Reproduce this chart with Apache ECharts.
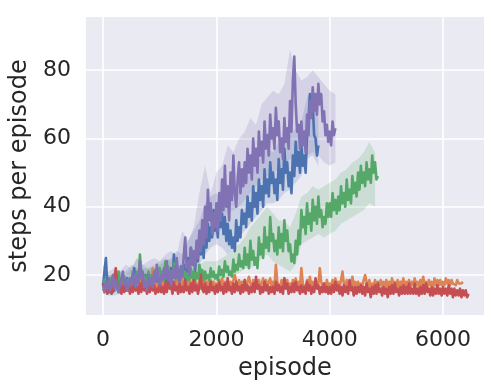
<!DOCTYPE html>
<html>
<head>
<meta charset="utf-8">
<script src="https://cdn.jsdelivr.net/npm/echarts@6/dist/echarts.min.js"></script>
<style>html,body{margin:0;padding:0;background:#fff;}#c{width:500px;height:392px;}</style>
</head>
<body>
<div id="c"></div>
<script>
// sampling grid (episodes) for the lines and for the confidence bands
const LINE_STEP = 25;
const BAND_STEP = 100;
const xTicks = [0, 2000, 4000, 6000];
const yTicks = [20, 40, 60, 80];

// mean steps per episode, one value every 25 episodes
const blue = [
  17, 21, 25, 17, 15, 16.5, 14.5, 17, 15.5, 18, 16, 17.5, 15, 18.5, 16, 17, 15.5, 19, 17, 16,
  18, 16, 22, 17.5, 19, 15.5, 17, 16, 19, 17, 20, 16.5, 18, 16, 19.5, 17, 18, 16.5, 19, 17,
  18.5, 17, 21, 18, 19.5, 17.5, 20, 18.5, 22, 19, 26, 20, 18, 21, 19, 22.5, 20, 23, 19, 21,
  25, 21, 28, 23, 26, 21, 29, 24, 32, 26, 30, 25, 33, 28, 35, 30, 34, 31, 39, 33,
  36, 31, 40, 34, 38, 32, 37, 30, 35, 29, 33, 28, 31, 27, 36, 30, 34, 31, 39, 35,
  38, 34, 43, 37, 41, 36, 46, 40, 44, 38, 48, 42, 46, 40, 51, 44, 48, 43, 53, 47,
  50, 44, 48, 42, 54, 47, 51, 45, 57, 50, 53, 46, 50, 44, 55, 49, 59, 52, 56, 50,
  58, 52, 55, 50, 61, 65, 73, 67, 70, 61, 60, 55, 58
];
const orange = [
  16, 15, 17, 15.5, 17.5, 15.5, 18, 16, 18.5, 16, 17, 15.5, 19, 16.5, 17.5, 16, 18, 16, 17.5, 16,
  17.5, 16, 18, 15.5, 17.5, 16, 19.5, 16.5, 17.5, 16, 18, 16.5, 18.5, 16, 19, 22, 18, 16, 17.5, 16.5,
  17.5, 16, 18.5, 16, 17.5, 15.5, 18, 16.5, 19, 16, 18, 16, 18.5, 16.5, 17.5, 16, 19, 16.5, 17.5, 16,
  18.5, 16, 18, 16.5, 19, 16.5, 17.5, 16, 18.5, 16, 18, 16.5, 19, 16, 18, 16, 18.5, 16.5, 18, 16,
  17.5, 16, 18.5, 16.5, 19, 16.5, 18, 16, 18.5, 16.5, 18, 16, 18.5, 20, 18, 16, 18.5, 16.5, 18, 16.5,
  18.5, 16.5, 18, 19.5, 17.5, 16, 18.5, 16.5, 18, 16, 18.5, 16.5, 17.5, 19, 17, 18.5, 16.5, 18, 19, 16.5,
  18, 16.5, 23, 18, 17.5, 16, 18.5, 16.5, 19, 16.5, 18.5, 16.5, 17.5, 16, 18.5, 16.5, 19, 17, 18, 16.5,
  22, 17.5, 18, 16, 18.5, 16.5, 19.5, 17, 18, 16.5, 18.5, 16.5, 17.5, 22, 18, 16.5, 17.5, 16.5, 18.5, 16.5,
  17.5, 16.5, 18.5, 16.5, 19, 17, 18, 16.5, 18.5, 21, 17.5, 16, 18.5, 16.5, 17.5, 16.5, 19.5, 17, 18, 16.5,
  18, 16.5, 17.5, 16.5, 18.5, 20, 18, 16.5, 18.5, 16, 17.5, 16.5, 18.5, 16.5, 18, 17, 18.5, 16.5, 18, 16.5,
  18.5, 16.5, 18, 16.5, 19, 17, 18, 16.5, 18.5, 16.5, 18, 17, 19, 16.5, 18, 17, 18.5, 16.5, 18, 17,
  19, 17, 18, 16.5, 18.5, 17, 19.5, 17, 18, 16.5, 18.5, 17, 18, 16.5, 19, 17, 18.5, 17, 18.5, 17,
  18, 17, 19, 17.5, 18.5, 17, 18.5, 17.5, 18, 17, 18.5, 17.5, 18, 17.5, 18
];
const green = [
  17, 18.5, 16, 17.5, 16, 19, 17, 20, 16.5, 18, 17, 21, 16.5, 18, 17, 19.5, 16.5, 18.5, 17, 19,
  18, 20, 17, 19.5, 21, 18, 26, 21, 18.5, 20, 17, 18.5, 21, 18, 20, 17.5, 19.5, 21.5, 19, 20.5,
  22, 19.5, 21, 18.5, 24, 20.5, 22.5, 19, 21, 19.5, 23.5, 20, 22, 18.5, 20, 19, 22.5, 19.5, 21, 18.5,
  20, 18.5, 22, 19, 21, 18, 20.5, 19, 23, 20, 21.5, 18.5, 21, 19, 20, 18.5, 22, 19.5, 21, 19,
  20, 18.5, 22.5, 20, 21.5, 19.5, 24, 21, 22.5, 20, 21, 19.5, 24.5, 21, 23, 21.5, 26, 22.5, 24, 22,
  28, 23, 26, 22, 30, 24.5, 27, 23, 25, 22, 31, 26, 29, 25, 34, 28, 31, 27, 37, 30,
  32, 27, 30, 26, 34, 28, 32, 27, 36, 30, 33, 27, 29, 24, 26, 23.5, 30, 26, 33, 29,
  39, 34, 37, 32, 41, 35, 38, 33, 42, 36, 40, 35, 43, 37, 39, 34, 37, 35, 41, 37,
  41, 37, 44, 39, 42, 38, 43, 39, 46, 41, 44, 40, 48, 42, 45, 41, 49, 44, 47, 43,
  50, 45, 52, 47, 50, 46, 53, 48, 51, 47, 55, 50, 53, 48, 49
];
const red = [
  17.5, 15.5, 16.5, 14.5, 16, 15, 17.5, 15, 19, 22, 17, 15, 16.5, 14.5, 17, 15, 18, 15.5, 16.5, 14.5,
  16.5, 15, 18, 15.5, 16.5, 14.5, 17.5, 15, 18.5, 15.5, 17, 14.5, 16.5, 15, 18, 15.5, 17, 14.5, 16, 15,
  18, 15, 16.5, 14.5, 17.5, 15, 19.5, 16, 17, 14.5, 18, 15.5, 16.5, 14.5, 17.5, 15, 16.5, 15, 18.5, 15.5,
  16.5, 14.5, 17.5, 15, 18.5, 15.5, 17, 14.5, 16.5, 20, 16, 15, 17.5, 14.5, 16.5, 15, 18, 15.5, 16.5, 14.5,
  17, 15, 18, 15.5, 16.5, 14.5, 17.5, 15, 19, 15.5, 16.5, 14.5, 17.5, 15, 18, 15.5, 16.5, 14.5, 17, 15,
  18.5, 15.5, 17, 14.5, 16.5, 15, 17.5, 15, 19.5, 16, 17, 14.5, 16.5, 15, 18, 15.5, 17, 14.5, 16.5, 15,
  16.5, 14.5, 18, 15.5, 17, 15, 16.5, 14.5, 19, 16, 17.5, 14.5, 16.5, 15, 17.5, 15, 18, 15.5, 16.5, 14.5,
  17, 15, 16.5, 14.5, 18, 15.5, 17, 14.5, 16.5, 15, 19, 16, 17, 14.5, 16.5, 15, 17.5, 15, 16.5, 14.5,
  16.5, 14.5, 17, 15, 18, 15.5, 17, 14.5, 16.5, 14, 17, 15, 16.5, 14.5, 18.5, 15.5, 16.5, 14, 16.5, 14.5,
  16.5, 15, 17, 14.5, 16.5, 14, 17.5, 15, 16, 13.5, 16.5, 14.5, 17, 14.5, 17.5, 15, 16, 14, 16.5, 14.5,
  16, 13.5, 16.5, 14.5, 17, 14.5, 17.5, 15, 16, 14, 16.5, 14.5, 17, 14.5, 16.5, 14.5, 17.5, 14.5, 16, 14.5,
  17.5, 14.5, 16, 14, 16.5, 14.5, 17, 14.5, 17.5, 15, 16, 14, 16.5, 14, 16, 14.5, 17, 14.5, 16, 14,
  16.5, 14.5, 16, 14, 17, 14.5, 16, 13.5, 16, 14, 15.5, 14, 16, 13.5, 15.5, 14, 15.5, 13.5, 14.5
];
const purple = [
  17, 15, 18, 16, 19, 15.5, 17, 20, 16, 18.5, 16, 15, 17.5, 19, 21, 17, 18.5, 15.5, 17, 19,
  17, 21, 18, 16.5, 20, 17.5, 24, 19, 21, 16.5, 18, 15.5, 20, 17, 19, 16.5, 21, 18, 23, 19,
  17, 20, 18.5, 22, 19, 24, 18.5, 21, 17, 20, 22.5, 19, 25, 20, 18, 22, 19.5, 26, 31, 22,
  24, 20, 28, 23, 27, 22, 30, 25, 33, 27, 36, 29, 40, 31, 45, 36, 41, 32, 38, 34,
  41, 33, 44, 36, 48, 39, 52, 40, 46, 36, 50, 42, 55, 44, 40, 48, 53, 44, 51, 46,
  53, 47, 57, 50, 55, 48, 60, 52, 57, 50, 62, 55, 59, 53, 65, 57, 61, 55, 67, 60,
  63, 57, 69, 61, 65, 56, 60, 54, 66, 59, 63, 57, 71, 62, 77, 84, 70, 62, 64, 57,
  65, 58, 62, 56, 67, 61, 71, 66, 75, 68, 73, 67, 76, 70, 73, 65, 68, 61, 64, 59,
  62, 58, 65, 61, 63
];

// confidence bands, one value every 100 episodes
const blueUpper = [23, 20, 20, 21, 21, 23, 22, 22, 22, 22, 23, 24, 25, 27, 26, 30, 33, 36, 41, 43,
  44, 42, 40, 42, 45, 48, 50, 52, 55, 57, 56, 59, 60, 61, 63, 65, 72, 74, 66];
const blueLower = [14.5, 14, 14, 14.5, 15, 15, 15, 15.5, 15.5, 15.5, 16, 16.5, 16.5, 17.5, 18, 19, 21, 23, 26, 28,
  29, 28, 26, 28, 31, 33, 35, 37, 39, 41, 41, 42, 44, 45, 47, 49, 54, 55, 52];
const greenUpper = [20, 20, 20, 21, 20, 22, 25, 23, 22, 23, 24, 25, 24, 23, 23, 23, 24, 23, 24, 24,
  24, 25, 26, 28, 29, 31, 34, 36, 38, 40, 38, 36, 36, 34, 38, 43, 44, 46, 45, 46,
  47, 48, 50, 51, 53, 54, 56, 59, 56];
const greenLower = [15, 15.5, 15.5, 16, 16, 16.5, 17, 16.5, 16.5, 17, 18, 18, 18, 17.5, 17, 17, 17.5, 17, 17.5, 17.5,
  17.5, 18, 19, 20, 20.5, 22, 22, 23, 25, 26, 24, 23, 22, 21, 23, 29, 30, 31, 32, 31,
  32, 33, 35, 36, 37, 38, 39, 41, 40];
const purpleUpper = [20, 21, 22, 21, 23, 22, 25, 23, 24, 25, 24, 26, 27, 26, 33, 30, 34, 44, 52, 44,
  50, 52, 58, 56, 60, 62, 66, 64, 70, 72, 74, 73, 76, 86, 80, 77, 78, 80, 78, 76, 74, 73];
const purpleLower = [15, 14.5, 15, 15, 15.5, 16, 16.5, 16, 16, 16.5, 16.5, 17, 17.5, 17, 21, 21, 24, 27, 30, 31,
  32, 35, 38, 39, 40, 42, 44, 46, 48, 49, 50, 51, 52, 54, 54, 53, 55, 56, 55, 53, 52, 53];

const COLORS = {blue: '#4C72B0', orange: '#DD8452', green: '#55A868', red: '#C44E52', purple: '#8172B3'};

function toPairs(vals, step) { return vals.map((v, i) => [i * step, v]); }

function band(color, lower, upper) {
  return {
    type: 'custom',
    coordinateSystem: 'cartesian2d',
    silent: true,
    clip: true,
    data: [[0, lower[0]]],
    renderItem: function (params, api) {
      const pts = [];
      for (let i = 0; i < upper.length; i++) pts.push(api.coord([i * BAND_STEP, upper[i]]));
      for (let i = lower.length - 1; i >= 0; i--) pts.push(api.coord([i * BAND_STEP, lower[i]]));
      return {type: 'polygon', shape: {points: pts}, style: {fill: color, opacity: 0.2}};
    }
  };
}
function line(color, vals) {
  return {
    type: 'line', data: toPairs(vals, LINE_STEP), showSymbol: false, symbol: 'none',
    lineStyle: {color: color, width: 2.6, join: 'round'}, itemStyle: {color: color},
    silent: true, clip: true
  };
}

const chart = echarts.init(document.getElementById('c'), null, {renderer: 'canvas'});
const txt = '#262626';
const font = 'DejaVu Sans';
chart.setOption({
  animation: false,
  backgroundColor: '#ffffff',
  grid: {left: 83, right: 16, top: 17, bottom: 77, show: true, backgroundColor: '#EAEAF2', borderWidth: 0},
  xAxis: {
    type: 'value', min: -303, max: 6723,
    name: 'episode', nameLocation: 'middle', nameGap: 42,
    nameTextStyle: {fontFamily: font, fontSize: 24, color: txt},
    axisLine: {show: false}, axisTick: {show: false, customValues: xTicks},
    axisLabel: {customValues: xTicks, formatter: v => String(v), fontFamily: font, fontSize: 22, color: txt, margin: 14},
    splitLine: {show: true, lineStyle: {color: '#ffffff', width: 1.6}}
  },
  yAxis: {
    type: 'value', min: 8.28, max: 95.6,
    name: 'steps per episode', nameLocation: 'middle', nameGap: 50,
    nameTextStyle: {fontFamily: font, fontSize: 24, color: txt},
    axisLine: {show: false}, axisTick: {show: false, customValues: yTicks},
    axisLabel: {customValues: yTicks, formatter: v => String(v), fontFamily: font, fontSize: 22, color: txt, margin: 15},
    splitLine: {show: true, lineStyle: {color: '#ffffff', width: 1.6}}
  },
  series: [
    band(COLORS.blue, blueLower, blueUpper),
    line(COLORS.blue, blue),
    line(COLORS.orange, orange),
    band(COLORS.green, greenLower, greenUpper),
    line(COLORS.green, green),
    line(COLORS.red, red),
    band(COLORS.purple, purpleLower, purpleUpper),
    line(COLORS.purple, purple)
  ]
});
</script>
</body>
</html>
